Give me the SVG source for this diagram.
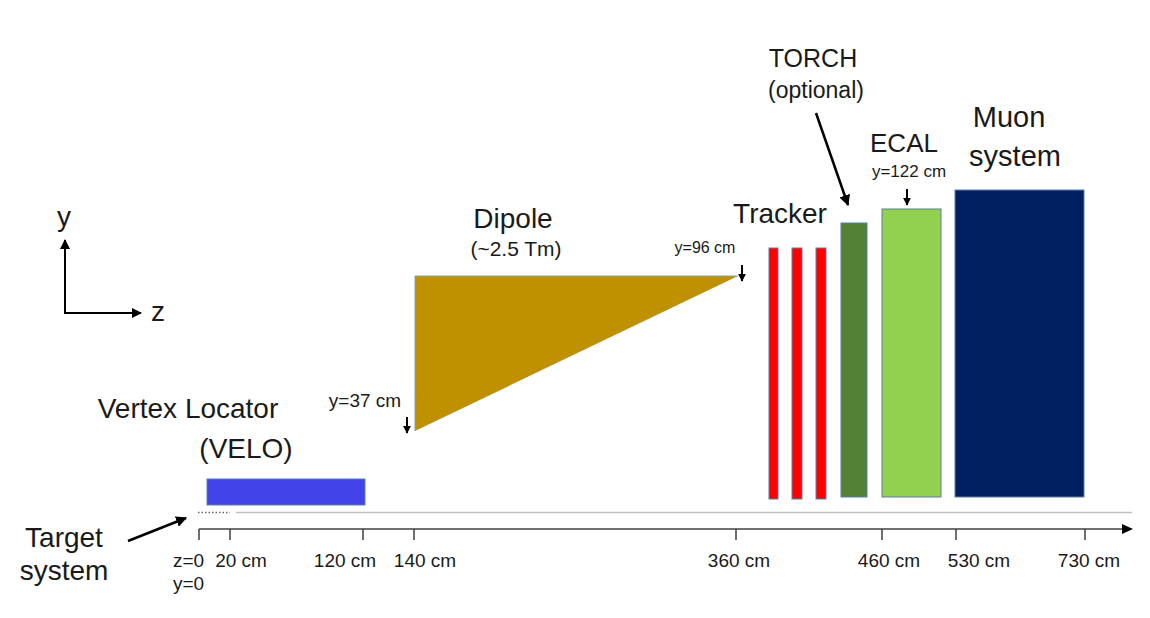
<svg xmlns="http://www.w3.org/2000/svg" width="1150" height="618" viewBox="0 0 1150 618">
<style>
text{font-family:"Liberation Sans",Arial,sans-serif;fill:#1a1a1a}
.big{font-size:28px}
.mid{font-size:24px}
.ax{font-size:19px}
.box{stroke:#5B7FA8;stroke-width:1}
.arr{stroke:#000;stroke-width:2;fill:none}
.arrb{stroke:#000;stroke-width:2.5;fill:none}
.axis{stroke:#404040;stroke-width:1.5;fill:none}
</style>
<defs>
<marker id="ah" viewBox="0 0 10 10" refX="9" refY="5" markerWidth="5" markerHeight="5" orient="auto" markerUnits="strokeWidth">
<path d="M0,0 L10,5 L0,10 z" fill="#000"/>
</marker>
<marker id="ahb" viewBox="0 0 10 10" refX="9" refY="5" markerWidth="4.4" markerHeight="4.4" orient="auto" markerUnits="strokeWidth">
<path d="M0,0 L10,5 L0,10 z" fill="#000"/>
</marker>
<marker id="ahs" viewBox="0 0 10 10" refX="9" refY="5" markerWidth="4" markerHeight="4" orient="auto" markerUnits="strokeWidth">
<path d="M0,0 L10,5 L0,10 z" fill="#000"/>
</marker>
</defs>
<rect width="1150" height="618" fill="#fff"/>

<g id="coord-axes">
<line class="arr" x1="65" y1="313" x2="65" y2="240" marker-end="url(#ah)"/>
<line class="arr" x1="64" y1="313" x2="141" y2="313" marker-end="url(#ah)"/>
<text class="big" x="64" y="226" text-anchor="middle">y</text>
<text class="big" x="158" y="321" text-anchor="middle">z</text>
</g>

<g id="beamline">
<line x1="198" y1="512.5" x2="230" y2="512.5" stroke="#666" stroke-width="1.5" stroke-dasharray="1.5,2"/>
<line x1="236" y1="512.5" x2="1132" y2="512.5" stroke="#BFBFBF" stroke-width="1.5"/>
</g>

<g id="z-axis">
<line class="axis" x1="199" y1="529" x2="1124" y2="529"/>
<path d="M1122,524 L1133,529 L1122,534 z" fill="#000"/>
<path class="axis" d="M199,540 V529 M230,540 V529 M363,540 V529 M414,540 V529 M736,540 V529 M882,540 V529 M956,540 V529 M1085,540 V529"/>
<text class="ax" x="173" y="567">z=0</text>
<text class="ax" x="173" y="590">y=0</text>
<text class="ax" x="241" y="567" text-anchor="middle">20 cm</text>
<text class="ax" x="345" y="567" text-anchor="middle">120 cm</text>
<text class="ax" x="425" y="567" text-anchor="middle">140 cm</text>
<text class="ax" x="739" y="567" text-anchor="middle">360 cm</text>
<text class="ax" x="889" y="567" text-anchor="middle">460 cm</text>
<text class="ax" x="979" y="567" text-anchor="middle">530 cm</text>
<text class="ax" x="1089" y="567" text-anchor="middle">730 cm</text>
</g>

<g id="target">
<text class="big" x="64" y="547" text-anchor="middle">Target</text>
<text class="big" x="64" y="580" text-anchor="middle">system</text>
<line class="arrb" x1="128" y1="541" x2="186" y2="518" marker-end="url(#ahb)"/>
</g>

<g id="velo">
<rect class="box" x="207" y="479" width="158" height="26" fill="#4343EA"/>
<text class="big" x="188" y="418" text-anchor="middle">Vertex Locator</text>
<text class="big" x="246" y="458" text-anchor="middle">(VELO)</text>
</g>

<g id="dipole">
<polygon points="415,276 738,276 415,431" fill="#BF9000"/>
<polyline points="415,431 415,276 738,276" fill="none" stroke="#7F9FBF" stroke-width="1"/>
<text class="big" x="513" y="228" text-anchor="middle">Dipole</text>
<text x="516" y="256" text-anchor="middle" font-size="21">(~2.5 Tm)</text>
<text x="705" y="253" text-anchor="middle" font-size="16">y=96 cm</text>
<line class="arr" x1="742" y1="265" x2="742" y2="281" marker-end="url(#ahs)"/>
<text class="ax" x="365" y="407" text-anchor="middle">y=37 cm</text>
<line class="arr" x1="407" y1="417" x2="407" y2="433" marker-end="url(#ahs)"/>
</g>

<g id="tracker">
<rect class="box" x="769" y="248" width="9" height="251" fill="#FF0000"/>
<rect class="box" x="792" y="248" width="10" height="251" fill="#FF0000"/>
<rect class="box" x="816" y="248" width="10" height="251" fill="#FF0000"/>
<text class="big" x="780" y="223" text-anchor="middle">Tracker</text>
</g>

<g id="torch">
<rect class="box" x="841" y="223" width="26" height="274" fill="#538135"/>
<text x="813" y="67" text-anchor="middle" font-size="25">TORCH</text>
<text x="816" y="98" text-anchor="middle" font-size="23">(optional)</text>
<line class="arrb" x1="816" y1="113" x2="848" y2="205" marker-end="url(#ahb)"/>
</g>

<g id="ecal">
<rect class="box" x="882" y="209" width="59" height="288" fill="#92D050"/>
<text x="904" y="152" text-anchor="middle" font-size="26">ECAL</text>
<text x="909" y="177" text-anchor="middle" font-size="17">y=122 cm</text>
<line class="arr" x1="907" y1="189" x2="907" y2="205" marker-end="url(#ahs)"/>
</g>

<g id="muon">
<rect class="box" x="955" y="190" width="129" height="307" fill="#002060"/>
<text x="1009" y="127" text-anchor="middle" font-size="29">Muon</text>
<text x="1015" y="166" text-anchor="middle" font-size="29">system</text>
</g>
</svg>
